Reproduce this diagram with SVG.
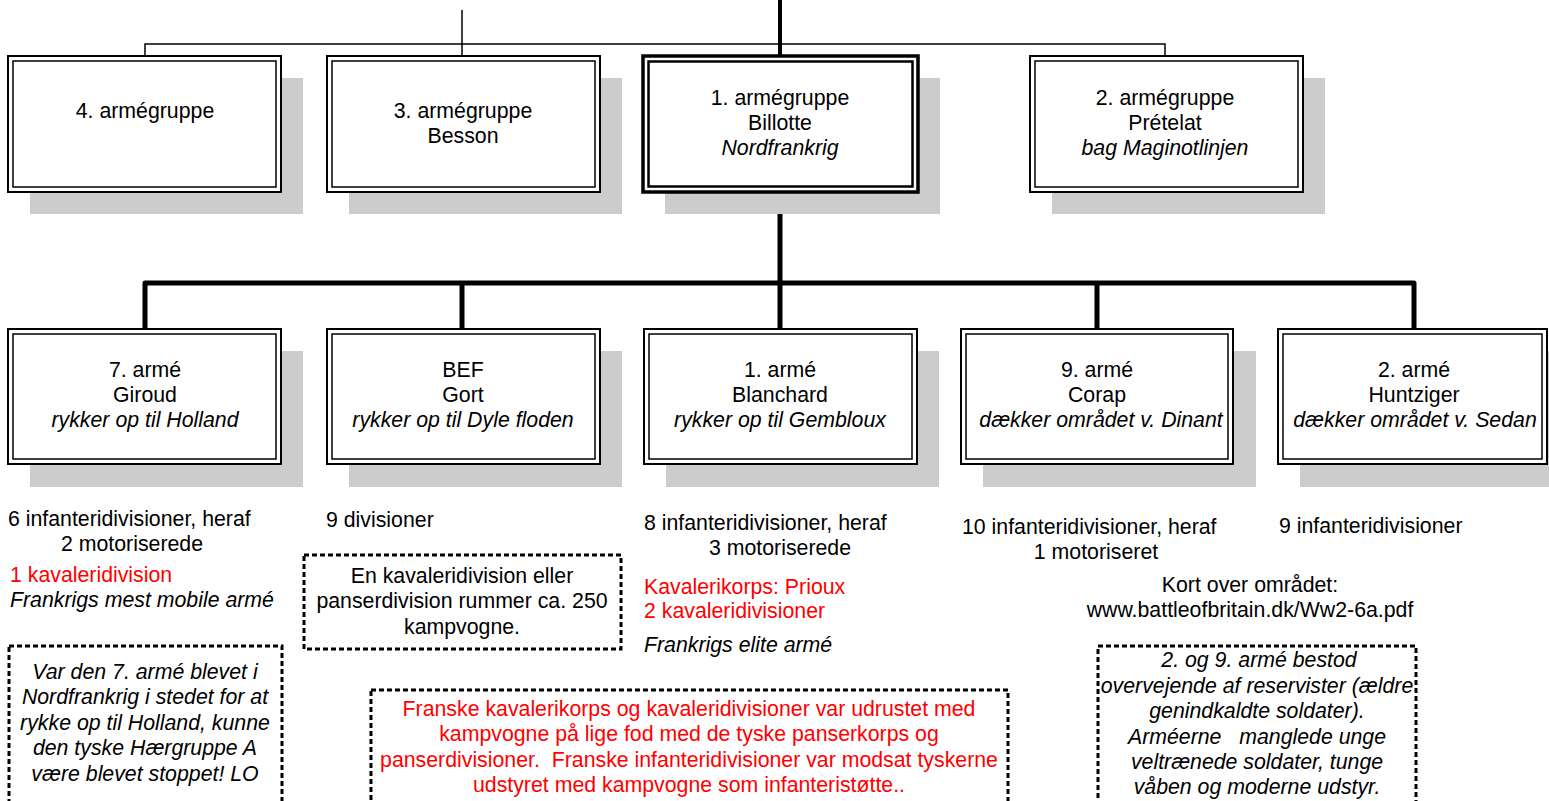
<svg xmlns="http://www.w3.org/2000/svg" width="1549" height="801" viewBox="0 0 1549 801">
<style>
text{font-family:"Liberation Sans",Arial,sans-serif;font-size:21.3px;fill:#000;white-space:pre}
.c{text-anchor:middle}
.i{font-style:italic}
.r{fill:#ff0000}
.sh{fill:#cccccc}
.o{fill:#fff;stroke:#000;stroke-width:2}
.in{fill:none;stroke:#000;stroke-width:1.5}
.ot{fill:#fff;stroke:#000;stroke-width:3.5}
.it{fill:none;stroke:#000;stroke-width:2.5}
.thin{fill:none;stroke:#000;stroke-width:1.5}
.thick{fill:none;stroke:#000;stroke-width:5;stroke-linejoin:round;stroke-linecap:butt}
.dot{fill:none;stroke:#000;stroke-width:3;stroke-dasharray:5 3}
</style>
<rect width="1549" height="801" fill="#fff"/>
<g id="connectors">
<path class="thin" d="M145 56V44H1165V56"/>
<path class="thin" d="M462 10V56"/>
<path d="M780 0V56" fill="none" stroke="#000" stroke-width="4"/>
<path class="thick" d="M780 191V283"/>
<path class="thick" d="M145 329V283H1414V329"/>
<path class="thick" d="M462 283V329"/>
<path class="thick" d="M780 283V329"/>
<path class="thick" d="M1097 283V329"/>
</g>
<g id="ag4">
<rect class="sh" x="30" y="78" width="273" height="136"/>
<rect class="o" x="8" y="56" width="273" height="136"/>
<rect class="in" x="13" y="61" width="263" height="126"/>
<text class="c" x="145" y="118">4. armégruppe</text>
</g>
<g id="ag3">
<rect class="sh" x="349" y="78" width="273" height="136"/>
<rect class="o" x="327" y="56" width="273" height="136"/>
<rect class="in" x="332" y="61" width="263" height="126"/>
<text class="c" x="463" y="118">3. armégruppe</text>
<text class="c" x="463" y="143">Besson</text>
</g>
<g id="ag1">
<rect class="sh" x="665" y="78" width="275" height="136"/>
<rect class="ot" x="643" y="56" width="275" height="136"/>
<rect class="it" x="648.5" y="61.5" width="264" height="125"/>
<text class="c" x="780" y="105">1. armégruppe</text>
<text class="c" x="780" y="130">Billotte</text>
<text class="c i" x="780" y="155">Nordfrankrig</text>
</g>
<g id="ag2">
<rect class="sh" x="1052" y="78" width="273" height="136"/>
<rect class="o" x="1030" y="56" width="273" height="136"/>
<rect class="in" x="1035" y="61" width="263" height="126"/>
<text class="c" x="1165" y="105">2. armégruppe</text>
<text class="c" x="1165" y="130">Prételat</text>
<text class="c i" x="1165" y="155">bag Maginotlinjen</text>
</g>
<g id="a7">
<rect class="sh" x="30" y="351" width="273" height="136"/>
<rect class="o" x="8" y="329" width="273" height="135"/>
<rect class="in" x="13" y="334" width="263" height="125"/>
<text class="c" x="145" y="377">7. armé</text>
<text class="c" x="145" y="402">Giroud</text>
<text class="c i" x="145" y="427">rykker op til Holland</text>
</g>
<g id="bef">
<rect class="sh" x="349" y="351" width="273" height="136"/>
<rect class="o" x="327" y="329" width="273" height="135"/>
<rect class="in" x="332" y="334" width="263" height="125"/>
<text class="c" x="463" y="377">BEF</text>
<text class="c" x="463" y="402">Gort</text>
<text class="c i" x="463" y="427">rykker op til Dyle floden</text>
</g>
<g id="a1">
<rect class="sh" x="666" y="351" width="273" height="136"/>
<rect class="o" x="644" y="329" width="273" height="135"/>
<rect class="in" x="649" y="334" width="263" height="125"/>
<text class="c" x="780" y="377">1. armé</text>
<text class="c" x="780" y="402">Blanchard</text>
<text class="c i" x="780" y="427">rykker op til Gembloux</text>
</g>
<g id="a9">
<rect class="sh" x="983" y="351" width="273" height="136"/>
<rect class="o" x="961" y="329" width="272" height="135"/>
<rect class="in" x="966" y="334" width="262" height="125"/>
<text class="c" x="1097" y="377">9. armé</text>
<text class="c" x="1097" y="402">Corap</text>
<text class="c i" x="1101" y="427">dækker området v. Dinant</text>
</g>
<g id="a2">
<rect class="sh" x="1300" y="351" width="273" height="136"/>
<rect class="o" x="1278" y="329" width="269" height="135"/>
<rect class="in" x="1283" y="334" width="259" height="125"/>
<text class="c" x="1414" y="377">2. armé</text>
<text class="c" x="1414" y="402">Huntziger</text>
<text class="c i" x="1415" y="427">dækker området v. Sedan</text>
</g>
<g id="notes7">
<text x="8" y="526">6 infanteridivisioner, heraf</text>
<text class="c" x="132" y="551">2 motoriserede</text>
<text class="r" x="10" y="582">1 kavaleridivision</text>
<text class="i" x="10" y="607">Frankrigs mest mobile armé</text>
</g>
<g id="note7box">
<rect class="dot" x="9" y="646" width="273" height="170"/>
<text class="c i" x="145" y="679">Var den 7. armé blevet i</text>
<text class="c i" x="145" y="704">Nordfrankrig i stedet for at</text>
<text class="c i" x="145" y="730">rykke op til Holland, kunne</text>
<text class="c i" x="145" y="755">den tyske Hærgruppe A</text>
<text class="c i" x="145" y="781">være blevet stoppet! LO</text>
</g>
<g id="notesbef">
<text x="326" y="527">9 divisioner</text>
</g>
<g id="kavbox">
<rect class="dot" x="304" y="555" width="317" height="94"/>
<text class="c" x="462" y="583">En kavaleridivision eller</text>
<text class="c" x="462" y="608">panserdivision rummer ca. 250</text>
<text class="c" x="462" y="634">kampvogne.</text>
</g>
<g id="notes1">
<text x="644" y="530">8 infanteridivisioner, heraf</text>
<text class="c" x="780" y="555">3 motoriserede</text>
<text class="r" x="644" y="594">Kavalerikorps: Prioux</text>
<text class="r" x="644" y="618">2 kavaleridivisioner</text>
<text class="i" x="644" y="652">Frankrigs elite armé</text>
</g>
<g id="redbox">
<rect class="dot" x="371" y="690" width="637" height="130"/>
<text class="c r" x="689" y="716">Franske kavalerikorps og kavaleridivisioner var udrustet med</text>
<text class="c r" x="689" y="741">kampvogne på lige fod med de tyske panserkorps og</text>
<text class="c r" x="689" y="767">panserdivisioner.  Franske infanteridivisioner var modsat tyskerne</text>
<text class="c r" x="689" y="792">udstyret med kampvogne som infanteristøtte..</text>
</g>
<g id="notes9">
<text x="962" y="534">10 infanteridivisioner, heraf</text>
<text class="c" x="1096" y="559">1 motoriseret</text>
</g>
<g id="notes2">
<text x="1279" y="533">9 infanteridivisioner</text>
</g>
<g id="kort">
<text class="c" x="1250" y="592">Kort over området:</text>
<text class="c" x="1250" y="617">www.battleofbritain.dk/Ww2-6a.pdf</text>
</g>
<g id="resbox">
<rect class="dot" x="1098" y="646" width="318" height="170"/>
<text class="c i" x="1259" y="667">2. og 9. armé bestod</text>
<text class="c i" x="1257" y="693">overvejende af reservister (ældre</text>
<text class="c i" x="1257" y="718">genindkaldte soldater).</text>
<text class="c i" x="1257" y="744">Arméerne   manglede unge</text>
<text class="c i" x="1257" y="769">veltrænede soldater, tunge</text>
<text class="c i" x="1257" y="794">våben og moderne udstyr.</text>
</g>
</svg>
